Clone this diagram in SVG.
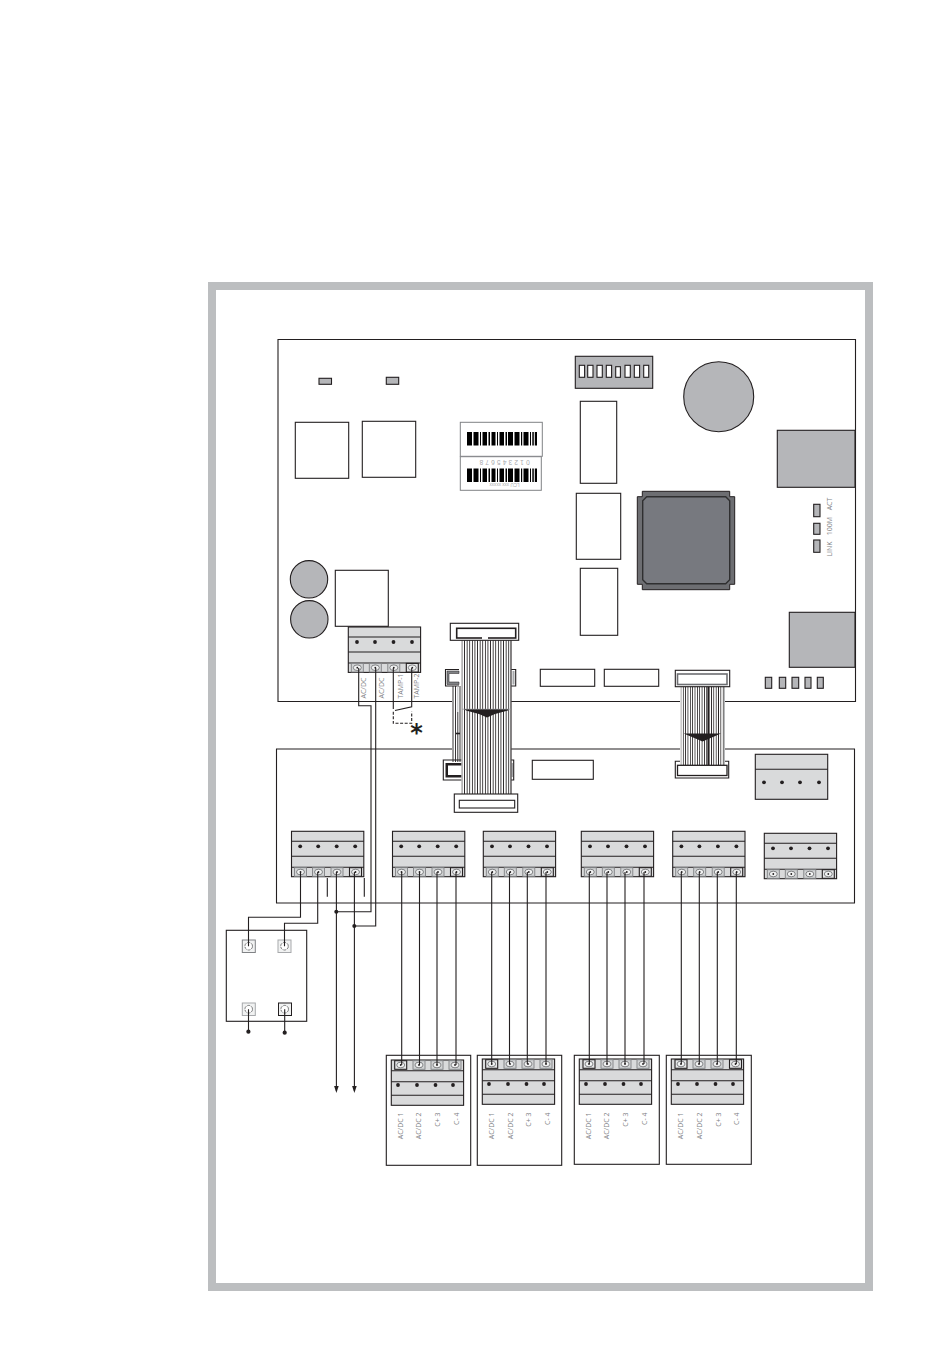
<svg xmlns="http://www.w3.org/2000/svg" xmlns:xlink="http://www.w3.org/1999/xlink" width="950" height="1353" viewBox="0 0 950 1353">
<style>
.o{fill:#fff;stroke:#231f20;stroke-width:1.1}
.g{fill:#b5b6b9;stroke:#231f20;stroke-width:1.1}
.t{fill:#d9dadb;stroke:#231f20;stroke-width:1.1}
.w{fill:none;stroke:#231f20;stroke-width:1.1}
.d{fill:#231f20}
.l{font-family:"Open Sans","Liberation Sans",sans-serif;font-size:7px;fill:#808285}
</style>
<defs>
<pattern id="stripes1" width="2.6" height="10" patternUnits="userSpaceOnUse" x="461.5"><rect width="0.85" height="10" fill="#231f20"/></pattern>
<pattern id="stripes2" width="2.35" height="10" patternUnits="userSpaceOnUse" x="680.5"><rect width="0.8" height="10" fill="#231f20"/></pattern>
<g id="sG"><rect x="-6" y="-4.3" width="12" height="8.6" fill="#d1d3d4" stroke="#808285" stroke-width="0.9"/><ellipse rx="4" ry="2.8" fill="#f1f2f2" stroke="#58595b" stroke-width="0.7"/><circle r="0.9" fill="#231f20"/></g>
<g id="sK"><rect x="-6" y="-4.3" width="12" height="8.6" fill="#e6e7e8" stroke="#231f20" stroke-width="1.1"/><ellipse rx="4" ry="2.8" fill="#f1f2f2" stroke="#58595b" stroke-width="0.7"/><circle r="0.9" fill="#231f20"/></g>
<g id="tb"><rect class="t" width="72.3" height="45.4"/><path class="w" d="M0 10H72.3M0 25H72.3M0 36H72.3"/><g class="d"><circle cx="8.7" cy="15" r="1.9"/><circle cx="26.7" cy="15" r="1.9"/><circle cx="45.2" cy="15" r="1.9"/><circle cx="63.7" cy="15" r="1.9"/></g>
<use xlink:href="#sG" href="#sG" x="9" y="40.7"/><use xlink:href="#sG" href="#sG" x="27" y="40.7"/><use xlink:href="#sG" href="#sG" x="45.5" y="40.7"/><use xlink:href="#sK" href="#sK" x="64" y="40.7"/></g>
<g id="tbB"><rect class="t" width="72.3" height="45.3"/><path class="w" d="M0 10.7H72.3M0 21.7H72.3M0 35.3H72.3"/><g class="d"><circle cx="6.7" cy="25" r="1.9"/><circle cx="25.7" cy="25" r="1.9"/><circle cx="44.2" cy="25" r="1.9"/><circle cx="61.7" cy="25" r="1.9"/></g></g>
<g id="labs"><text class="l" text-anchor="end" transform="translate(0,0) rotate(-90)">AC/DC 1</text><text class="l" text-anchor="end" transform="translate(18.6,0) rotate(-90)">AC/DC 2</text><text class="l" text-anchor="end" transform="translate(37.2,0) rotate(-90)">C+ 3</text><text class="l" text-anchor="end" transform="translate(56,0) rotate(-90)">C- 4</text></g>
<path id="bc" fill="#000" d="M0 0h5v13.5h-5zM6.5 0h5v13.5h-5zM13 0h1v13.5h-1zM15.5 0h4.5v13.5h-4.5zM21.5 0h1.5v13.5h-1.5zM24.5 0h4v13.5h-4zM30 0h1v13.5h-1zM32.5 0h4.5v13.5h-4.5zM38.5 0h1.5v13.5h-1.5zM41 0h5v13.5h-5zM47.5 0h5v13.5h-5zM54 0h1.2v13.5h-1.2zM56.5 0h5v13.5h-5zM63 0h1v13.5h-1zM65.3 0h1.5v13.5h-1.5zM67.8 0h2.2v13.5h-2.2z"/>
<marker id="arr" markerWidth="7" markerHeight="5" refX="5" refY="2.5" orient="auto" viewBox="0 0 7 5" markerUnits="userSpaceOnUse"><path d="M0 0.2L7 2.5L0 4.8Z" fill="#231f20"/></marker>
</defs>
<rect width="950" height="1353" fill="#fff"/>
<rect id="frame" x="212" y="286" width="657" height="1001" fill="#fff" stroke="#bcbec0" stroke-width="8"/>

<g id="board-upper">
<path class="w" d="M452 701.5H278V339.5H855.5V701.5H725M680 701.5H511"/>
<rect class="g" x="319" y="378.3" width="12.5" height="6"/>
<rect class="g" x="386.3" y="377.3" width="12.4" height="7"/>
<rect class="o" x="295.3" y="422.3" width="53.4" height="56"/>
<rect class="o" x="362.3" y="421.3" width="53.4" height="56"/>
<rect class="o" x="580.3" y="401.3" width="36.4" height="82"/>
<rect class="o" x="576.3" y="493.3" width="44.4" height="66"/>
<rect class="o" x="580.3" y="568.3" width="37.4" height="67"/>
<rect class="o" x="335.3" y="570.3" width="53" height="56"/>
<rect class="o" x="540.3" y="669.3" width="54.4" height="17"/>
<rect class="o" x="604.3" y="669.3" width="54.4" height="17"/>
<circle class="g" cx="309" cy="579.3" r="18.7"/>
<circle class="g" cx="309.3" cy="619.3" r="18.7"/>
<circle class="g" cx="718.7" cy="396.7" r="35"/>
<rect class="g" x="777.3" y="430.3" width="77.7" height="57"/>
<rect class="g" x="789.3" y="612.3" width="65.7" height="55"/>
<rect class="g" x="813.7" y="504.3" width="6.3" height="12.4"/>
<rect class="g" x="813.7" y="523.3" width="6.3" height="11"/>
<rect class="g" x="813.7" y="540" width="6.3" height="12.3"/>
<text class="l" text-anchor="middle" transform="translate(831.5,504) rotate(-90)">ACT</text>
<text class="l" text-anchor="middle" transform="translate(831.5,526) rotate(-90)">100M</text>
<text class="l" text-anchor="middle" transform="translate(831.5,549) rotate(-90)">LINK</text>
<rect class="g" x="765.3" y="677.3" width="6.4" height="11"/>
<rect class="g" x="779.3" y="677.3" width="6.4" height="11"/>
<rect class="g" x="792" y="677.3" width="6.7" height="11"/>
<rect class="g" x="805" y="677.3" width="6" height="11"/>
<rect class="g" x="817.3" y="677.3" width="6" height="11"/>
</g>

<g id="dip-switch">
<rect class="g" x="575.3" y="356.3" width="77.4" height="32"/>
<g class="o"><rect x="579.3" y="365.3" width="5.3" height="12"/><rect x="587.7" y="365.3" width="5.3" height="12"/><rect x="597" y="365.3" width="5.3" height="12"/><rect x="606.3" y="365.3" width="5.3" height="12"/><rect x="615.7" y="366.7" width="4.7" height="10.6"/><rect x="625" y="365.3" width="5.3" height="12"/><rect x="634.3" y="365.3" width="5.3" height="12"/><rect x="643.7" y="365.3" width="5" height="12"/></g>
</g>

<g id="chip">
<path d="M642.3 491.3H729.7V496.7H734.7V584.3H729.7V589.7H642.3V584.3H637.3V496.7H642.3Z" fill="#6d6e72" stroke="#231f20" stroke-width="1"/>
<path d="M646.7 496.7H725.7L729.7 500.7V579.7L725.7 583.7H646.7L642.7 579.7V500.7Z" fill="#77797f" stroke="#2f2f30" stroke-width="1.4"/>
</g>

<g id="barcode-label">
<rect x="460.3" y="422.3" width="82" height="34" fill="#fff" stroke="#808285" stroke-width="1"/>
<rect x="460.3" y="456.7" width="81" height="33.6" fill="#fff" stroke="#808285" stroke-width="1"/>
<use xlink:href="#bc" href="#bc" x="467" y="432"/>
<use xlink:href="#bc" href="#bc" x="467" y="468.5"/>
<text transform="translate(503.5,460) rotate(180)" text-anchor="middle" font-family="Liberation Sans,sans-serif" font-size="6.5" letter-spacing="2.2" fill="#a7a9ac">012345678</text>
<text transform="translate(504.5,483) rotate(180)" text-anchor="middle" font-family="Liberation Sans,sans-serif" font-size="4.6" fill="#a7a9ac">LCU xxx xxxxx</text>
</g>

<g id="board-lower">
<path class="w" d="M452 749H276.5V903H854.5V749H725M680 749H511"/>
<rect class="o" x="532.3" y="760.3" width="61" height="19"/>
</g>

<g id="terminal-upper"><use xlink:href="#tb" href="#tb" x="348.3" y="627"/>
<text class="l" transform="translate(365.5,698.5) rotate(-90)">AC/DC</text>
<text class="l" transform="translate(384,698.5) rotate(-90)">AC/DC</text>
<text class="l" transform="translate(402.5,698.5) rotate(-90)">TAMP-1</text>
<text class="l" transform="translate(418.5,698.5) rotate(-90)">TAMP-2</text>
</g>
<g id="terminal-4pin"><rect class="t" x="755.3" y="754.3" width="72.4" height="45"/><path class="w" d="M755.3 769.3H827.7"/><g class="d"><circle cx="764" cy="782.3" r="1.9"/><circle cx="782" cy="782.3" r="1.9"/><circle cx="800" cy="782.3" r="1.9"/><circle cx="819" cy="782.3" r="1.9"/></g></g>
<g id="terminal-l1"><use xlink:href="#tb" href="#tb" x="291.5" y="831.3"/></g>
<g id="terminal-l2"><use xlink:href="#tb" href="#tb" x="392.5" y="831.3"/></g>
<g id="terminal-l3"><use xlink:href="#tb" href="#tb" x="483.3" y="831.3"/></g>
<g id="terminal-l4"><use xlink:href="#tb" href="#tb" x="581.3" y="831.3"/></g>
<g id="terminal-l5"><use xlink:href="#tb" href="#tb" x="672.7" y="831.3"/></g>
<g id="terminal-l6"><use xlink:href="#tb" href="#tb" x="764.3" y="833.3"/></g>

<g id="relay">
<rect class="o" x="226.3" y="930.3" width="80.4" height="91"/>
<g fill="#f1f2f2" stroke-width="1">
<rect x="242.3" y="940" width="13" height="12.5" stroke="#808285"/><rect x="278" y="940" width="13" height="12.5" stroke="#a7a9ac"/>
<rect x="242.3" y="1003" width="13" height="12.5" stroke="#a7a9ac"/><rect x="278.5" y="1003" width="13" height="12.5" stroke="#231f20"/>
</g>
<g fill="#fff" stroke="#58595b" stroke-width="0.8" stroke-dasharray="3 1"><circle cx="248.7" cy="946.2" r="3.8"/><circle cx="284.5" cy="946.2" r="3.8"/><circle cx="248.7" cy="1009.2" r="3.8"/><circle cx="284.7" cy="1009.2" r="3.8"/></g>
</g>

<g id="box-b1"><rect class="o" x="386.3" y="1055.3" width="84.4" height="110"/><use xlink:href="#tbB" href="#tbB" x="391.3" y="1060"/>
<use xlink:href="#sK" href="#sK" x="400.7" y="1065"/><use xlink:href="#sG" href="#sG" x="419" y="1065"/><use xlink:href="#sG" href="#sG" x="437" y="1065"/><use xlink:href="#sG" href="#sG" x="455" y="1065"/>
<use xlink:href="#labs" href="#labs" x="402.5" y="1112.5"/></g>
<g id="box-b2"><rect class="o" x="477.3" y="1055.3" width="84.4" height="110"/><use xlink:href="#tbB" href="#tbB" x="482.3" y="1059"/>
<use xlink:href="#sK" href="#sK" x="491.7" y="1064"/><use xlink:href="#sG" href="#sG" x="510" y="1064"/><use xlink:href="#sG" href="#sG" x="528" y="1064"/><use xlink:href="#sG" href="#sG" x="546" y="1064"/>
<use xlink:href="#labs" href="#labs" x="494" y="1112.5"/></g>
<g id="box-b3"><rect class="o" x="574.3" y="1055.3" width="85" height="109"/><use xlink:href="#tbB" href="#tbB" x="579.3" y="1059"/>
<use xlink:href="#sK" href="#sK" x="589" y="1064"/><use xlink:href="#sG" href="#sG" x="607" y="1064"/><use xlink:href="#sG" href="#sG" x="625" y="1064"/><use xlink:href="#sG" href="#sG" x="643" y="1064"/>
<use xlink:href="#labs" href="#labs" x="590.7" y="1112.5"/></g>
<g id="box-b4"><rect class="o" x="666.3" y="1055.3" width="85" height="109"/><use xlink:href="#tbB" href="#tbB" x="671.3" y="1059"/>
<use xlink:href="#sK" href="#sK" x="681" y="1064"/><use xlink:href="#sG" href="#sG" x="699" y="1064"/><use xlink:href="#sG" href="#sG" x="717" y="1064"/><use xlink:href="#sK" href="#sK" x="735.5" y="1064"/>
<use xlink:href="#labs" href="#labs" x="683.3" y="1112.5"/></g>

<g id="ribbon-side">
<path class="w" d="M459 669.5H445.5V686H459M511 669.5H515.7V686H511"/>
<path d="M459 671H447V684.5H459V682H449V673.5H459Z" fill="#808285" stroke="#231f20" stroke-width="0.5"/>
<rect x="512.5" y="671" width="2" height="13.5" fill="#a7a9ac"/>
<path class="w" d="M462 760H443.3V780H462M511 760H513.7V780H511"/>
<path d="M462 763H445.5V777.5H462V775H448V765.5H462Z" fill="#231f20"/>
<rect x="511.5" y="763" width="1.5" height="14" fill="#a7a9ac"/>
<path fill="none" stroke="#231f20" stroke-width="0.9" d="M453 686V762M455.5 686V762M460 686V762M457.8 712V762"/>
<path d="M457.8 686V712" fill="none" stroke="#bcbec0"/>
<path d="M456 733.5H460" fill="none" stroke="#231f20" stroke-width="1.6"/>
</g>

<g id="ribbon-1">
<rect x="461.3" y="640" width="50" height="156" fill="#fff"/>
<rect x="461.5" y="640" width="49.5" height="156" fill="url(#stripes1)"/>
<path class="w" d="M511 640V796"/>
<path d="M464.3 709H508V710.5L495 714L487 717.5L479 714L466 710.5Z" fill="#231f20"/>
<path d="M462 709.2H511" fill="none" stroke="#939598" stroke-width="0.7"/>
<rect class="o" x="450.3" y="623.3" width="68.4" height="17"/>
<rect x="456.7" y="628.3" width="59" height="9.7" fill="#fff" stroke="#231f20" stroke-width="1.6"/>
<rect x="482" y="637" width="6" height="2" fill="#fff"/>
<rect class="o" x="454.3" y="794" width="63.4" height="18.3"/>
<rect class="o" x="459.3" y="800.3" width="55.4" height="7.7"/>
</g>

<g id="ribbon-2">
<rect x="680.5" y="685" width="44" height="80" fill="#fff"/>
<rect x="680.7" y="685" width="43.6" height="80" fill="url(#stripes2)"/>
<path d="M708.3 685V765" stroke="#231f20" stroke-width="1.8" fill="none"/>
<path d="M724.3 685V765" stroke="#a7a9ac" fill="none"/>
<path d="M683.7 733.5H721L713 737L702.5 741.5L692 737Z" fill="#231f20"/>
<rect class="o" x="675.3" y="670.3" width="54.4" height="16.4"/>
<rect x="677.5" y="674" width="49.5" height="10.5" fill="#fff" stroke="#6d6e72" stroke-width="1.6"/>
<path class="w" d="M680 761.3H675.3V778H728.7V761.3H725"/>
<rect x="677.5" y="765.3" width="49.5" height="10.2" fill="#fff" stroke="#231f20" stroke-width="1.3"/>
</g>

<g id="connectors">
<path class="w" d="M358.7 668V705.7H371V911.7H336.3"/>
<path class="w" d="M375.7 668V926H354.3"/>
<path class="w" d="M393.3 668V709"/>
<path class="w" d="M411.7 668V706.7L395 710.5"/>
<path class="w" stroke-dasharray="3 1.6" d="M393.3 711.7V723.3H411.7V711.7"/>
<path class="w" d="M300.5 872V917.3H248.5V946.2"/>
<path class="w" d="M317.7 872V923.3H284.5V946.2"/>
<path class="w" marker-end="url(#arr)" d="M336.4 872V1091"/>
<path class="w" marker-end="url(#arr)" d="M354.4 872V1091"/>
<path class="w" d="M327.3 878V896.7M364.3 878V896.7"/>
<path class="w" d="M248.5 1009.2V1031.7M284.7 1009.2V1032.7"/>
<path class="w" d="M401.7 872V1065M419.5 872V1065M437 872V1065M456 872V1065"/>
<path class="w" d="M491.7 872V1064M509.5 872V1064M527.3 872V1064M546 872V1064"/>
<path class="w" d="M589.3 872V1064M607 872V1064M625 872V1064M644 872V1064"/>
<path class="w" d="M681.3 872V1064M699.3 872V1064M717.3 872V1064M736.3 872V1064"/>
<g class="d"><circle cx="336.3" cy="911.7" r="2"/><circle cx="354.3" cy="926" r="2"/><circle cx="248.4" cy="1031.7" r="2.1"/><circle cx="284.7" cy="1032.7" r="2.1"/></g>
</g>
<text id="note" x="416.5" y="741" text-anchor="middle" font-family="DejaVu Sans,sans-serif" font-weight="bold" font-size="24" fill="#231f20">*</text>
</svg>
